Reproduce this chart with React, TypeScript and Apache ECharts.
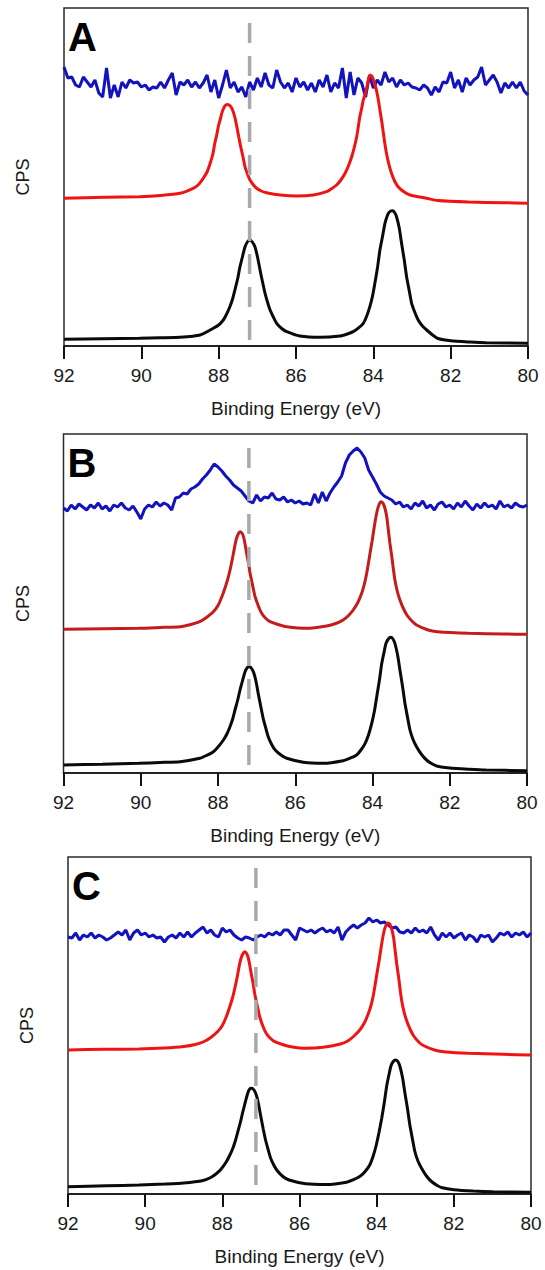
import React, { useEffect, useRef } from "react";
import * as echarts from "echarts";

// ---------- data ----------
const E_MIN = 80;
const E_MAX = 92;
const E_TICK = 2;
const X_TITLE = "Binding Energy (eV)";
const Y_TITLE = "CPS";
const PANEL_LABELS = ["A", "B", "C"];
const REF_LINE_EV = [87.2, 87.2, 87.13];

// blue traces: sampled every 0.1 eV starting at 92 eV
const NOISE_START = 92;
const NOISE_STEP = 0.1;

const blueA = [
  279, 268, 269, 261, 259, 269, 264, 259, 266, 253,
  249, 278, 248, 261, 249, 264, 258, 266, 263, 264,
  259, 261, 256, 259, 258, 264, 258, 266, 273, 251,
  264, 261, 266, 259, 264, 258, 263, 271, 254, 266,
  248, 261, 276, 258, 264, 254, 259, 249, 264, 256,
  268, 259, 273, 261, 258, 276, 264, 258, 263, 254,
  268, 259, 264, 256, 263, 254, 266, 259, 271, 254,
  263, 258, 278, 248, 274, 251, 268, 263, 249, 271,
  258, 266, 261, 274, 264, 268, 259, 266, 261, 263,
  259, 258, 256, 261, 258, 251, 259, 254, 264, 263,
  274, 258, 266, 254, 268, 261, 266, 269, 279, 261,
  266, 271, 264, 253, 263, 258, 264, 258, 264, 255,
  251,
];

const blueB = [
  265, 262, 268, 264, 269, 266, 263, 268, 265, 270,
  264, 267, 262, 268, 266, 270, 265, 263, 267, 261,
  254, 264, 268, 266, 271, 267, 270, 268, 263, 275,
  276, 280, 279, 284, 286, 289, 294, 298, 303, 309,
  306, 302, 297, 293, 288, 285, 282, 277, 272, 270,
  278, 272, 276, 275, 280, 274, 273, 276, 271, 273,
  270, 272, 269, 270, 268, 279, 270, 281, 272, 280,
  286, 291, 297, 310, 318, 322, 325, 321, 315, 303,
  296, 289, 281, 277, 275, 273, 269, 271, 266, 268,
  264, 270, 267, 272, 265, 268, 263, 269, 271, 266,
  268, 264, 270, 266, 272, 267, 263, 269, 265, 270,
  266, 268, 264, 272, 266, 268, 265, 270, 267, 266,
  268,
];

const blueC = [
  257, 256, 261, 254, 259, 257, 261, 256, 259, 257,
  254, 256, 259, 262, 259, 264, 254, 261, 264, 259,
  261, 257, 259, 256, 257, 252, 257, 259, 256, 261,
  257, 262, 257, 261, 264, 267, 261, 264, 259, 257,
  266, 262, 264, 259, 256, 254, 257, 256, 254, 257,
  259, 257, 261, 259, 262, 259, 264, 264, 259, 254,
  266, 264, 262, 264, 261, 264, 266, 262, 264, 261,
  267, 254, 262, 266, 269, 266, 269, 271, 276, 272,
  274, 271, 272, 269, 266, 267, 262, 261, 264, 261,
  266, 262, 264, 261, 267, 259, 254, 261, 257, 261,
  256, 259, 261, 254, 259, 257, 252, 259, 257, 259,
  252, 256, 261, 259, 262, 257, 261, 259, 262, 257,
  261,
];

const blackA: [number, number][] = [
  [92.0, 6.7], [91.0, 7.2], [90.05, 7.7], [89.5, 8.2], [89.0, 8.7], [88.48, 11], [88.14, 17.7], [88.0, 21],
  [87.88, 26], [87.8, 31.5], [87.71, 39.3], [87.64, 47], [87.58, 56], [87.51, 67], [87.45, 79], [87.38, 90],
  [87.32, 99], [87.25, 104.5], [87.19, 106], [87.13, 104], [87.06, 99], [86.99, 88], [86.93, 76], [86.86, 63],
  [86.8, 52.7], [86.73, 43], [86.67, 36], [86.58, 28.5], [86.5, 22.7], [86.37, 17.5], [86.24, 14.3], [85.9, 10],
  [85.38, 8.7], [84.86, 10], [84.69, 11.8], [84.52, 14.3], [84.39, 17.8], [84.26, 22.7], [84.17, 30], [84.09, 39.3],
  [84.02, 50], [83.96, 62.7], [83.89, 79], [83.83, 96], [83.76, 110], [83.7, 122.7], [83.65, 129], [83.61, 132.7],
  [83.55, 135], [83.5, 135.3], [83.45, 133.5], [83.4, 129.3], [83.33, 118], [83.27, 102.7], [83.2, 86], [83.14, 69.3],
  [83.07, 55], [83.01, 42.7], [82.92, 33], [82.84, 26], [82.73, 20], [82.62, 16], [82.45, 10.5], [82.33, 7.5],
  [82.0, 5.2], [81.5, 4], [81.08, 3.3], [80.0, 2.7],
];

const redA: [number, number][] = [
  [92.0, 147.7], [90.95, 148.7], [90.05, 149.3], [89.5, 150.5], [89.0, 152.7], [88.66, 157.7], [88.52, 161.5], [88.4, 167.7],
  [88.3, 174], [88.22, 182.7], [88.15, 192], [88.1, 202.7], [88.05, 211], [88.01, 219.3], [87.96, 226.5], [87.92, 232.7],
  [87.88, 237], [87.84, 240], [87.78, 241.5], [87.73, 241], [87.68, 239], [87.64, 236], [87.58, 228.5], [87.53, 219.3],
  [87.48, 209], [87.43, 199.3], [87.37, 189], [87.32, 179.3], [87.25, 171.5], [87.19, 166], [87.1, 161], [87.02, 157.7],
  [86.9, 155], [86.76, 153.3], [86.41, 151], [85.98, 150], [85.55, 151], [85.21, 154.3], [85.08, 157.3], [84.95, 161],
  [84.84, 166], [84.73, 172.7], [84.64, 180.5], [84.56, 189.3], [84.49, 199], [84.43, 209.3], [84.39, 219], [84.35, 229.3],
  [84.3, 238], [84.26, 246], [84.21, 252], [84.17, 258], [84.13, 266], [84.08, 271], [84.03, 269.5], [83.98, 264],
  [83.94, 259], [83.91, 254], [83.87, 246], [83.83, 236], [83.78, 224], [83.74, 212.7], [83.7, 202], [83.66, 192.7],
  [83.6, 182], [83.53, 172.7], [83.45, 165], [83.36, 159.3], [83.2, 154], [83.05, 151], [82.62, 147.7], [82.33, 145.5],
  [81.53, 144], [80.63, 143.3], [80.0, 142.7],
];

const blackB: [number, number][] = [
  [92.0, 8], [91.0, 8.8], [90.05, 9.7], [89.5, 10.5], [88.98, 11.3], [88.47, 14.7], [88.3, 17.5], [88.12, 21.3],
  [88.0, 26], [87.86, 33], [87.77, 39], [87.69, 46.3], [87.62, 54], [87.56, 63], [87.49, 73], [87.43, 83],
  [87.36, 93], [87.3, 101.3], [87.24, 105.5], [87.19, 106.3], [87.13, 104.5], [87.07, 99.7], [87.01, 90.5], [86.96, 79.7],
  [86.89, 66], [86.83, 54.7], [86.76, 44.5], [86.7, 36.3], [86.61, 28.5], [86.52, 23], [86.37, 18], [86.22, 14.7],
  [85.79, 10.7], [85.27, 9.7], [84.76, 12.3], [84.58, 14.8], [84.41, 18], [84.3, 23], [84.19, 29.7], [84.1, 38.5],
  [84.02, 49.7], [83.95, 62], [83.89, 76.3], [83.82, 93], [83.76, 109.7], [83.7, 121], [83.65, 129.7], [83.59, 134],
  [83.53, 135.7], [83.47, 134], [83.42, 129.7], [83.35, 118], [83.29, 103], [83.22, 86], [83.16, 69.7], [83.09, 55],
  [83.03, 43], [82.95, 33.5], [82.86, 26.3], [82.73, 18.5], [82.6, 13], [82.45, 9], [82.32, 6.8], [82.0, 5],
  [81.5, 3.8], [81.06, 3], [80.0, 2.3],
];

const redB: [number, number][] = [
  [92.0, 143.7], [90.95, 144.3], [90.05, 144.7], [89.5, 145.5], [88.98, 146.3], [88.7, 148.5], [88.47, 151.3], [88.3, 155.5],
  [88.12, 161.3], [88.0, 167.5], [87.9, 176.3], [87.81, 186], [87.73, 196.3], [87.66, 208], [87.6, 219.7], [87.56, 228],
  [87.52, 234.7], [87.47, 239.5], [87.43, 241.3], [87.38, 240], [87.34, 236.3], [87.3, 229], [87.26, 219.7], [87.21, 210],
  [87.17, 199.7], [87.1, 187], [87.04, 176.3], [86.95, 166.5], [86.87, 159.7], [86.76, 154.5], [86.65, 151.3], [86.45, 148.5],
  [86.22, 146.3], [85.7, 144.7], [85.19, 147], [84.95, 149.5], [84.76, 153], [84.62, 157.5], [84.5, 163], [84.38, 170.5],
  [84.28, 179.7], [84.21, 189], [84.15, 199.7], [84.1, 211], [84.05, 223], [84.01, 232], [83.98, 239.7], [83.93, 252],
  [83.88, 262], [83.83, 268.5], [83.78, 271.3], [83.73, 270], [83.68, 265], [83.63, 256], [83.59, 243], [83.55, 230],
  [83.5, 216.3], [83.46, 204], [83.42, 193], [83.36, 182], [83.29, 173], [83.2, 164.5], [83.11, 158], [82.98, 152],
  [82.86, 148], [82.56, 143], [82.32, 141.3], [81.51, 139.7], [80.61, 139], [80.0, 138.7],
];

const blackC: [number, number][] = [
  [92.0, 7.3], [91.0, 8.2], [90.16, 9], [89.5, 10], [89.0, 11], [88.5, 13.5], [88.3, 16.5], [88.15, 20.5],
  [88.03, 25], [87.9, 32], [87.81, 38.5], [87.73, 45.5], [87.66, 53.5], [87.6, 62], [87.53, 72], [87.47, 82],
  [87.4, 92.5], [87.34, 101], [87.29, 105], [87.24, 105.7], [87.18, 104], [87.12, 99], [87.06, 89.5], [87.01, 79],
  [86.94, 65], [86.88, 54], [86.81, 44], [86.75, 36], [86.66, 28.5], [86.57, 23], [86.43, 17.5], [86.27, 14],
  [85.84, 10.3], [85.3, 9.5], [84.78, 11.8], [84.6, 14.3], [84.42, 18], [84.3, 22.5], [84.18, 29], [84.09, 38],
  [84.01, 49], [83.94, 61.5], [83.87, 75.5], [83.8, 92], [83.74, 108], [83.68, 119.5], [83.63, 128], [83.57, 132.5],
  [83.51, 134], [83.45, 132.5], [83.4, 128], [83.33, 116.5], [83.27, 101.5], [83.2, 85], [83.14, 69], [83.07, 54.5],
  [83.01, 42.5], [82.93, 33], [82.84, 26], [82.71, 18], [82.58, 12.5], [82.43, 8.5], [82.3, 6.2], [82.0, 4.3],
  [81.5, 3], [80.99, 2.3], [80.0, 1.7],
];

const redC: [number, number][] = [
  [92.0, 144], [91.06, 144.7], [90.16, 145], [89.5, 146], [89.0, 147.5], [88.7, 149.5], [88.47, 152.5], [88.3, 156.5],
  [88.12, 162.5], [88.0, 168.5], [87.9, 177], [87.81, 187], [87.73, 197], [87.66, 208.5], [87.6, 220], [87.56, 228.5],
  [87.52, 235], [87.47, 240], [87.42, 242.3], [87.37, 240.5], [87.33, 236.5], [87.29, 229], [87.25, 220], [87.2, 210],
  [87.16, 200], [87.09, 187.5], [87.03, 177], [86.94, 167], [86.86, 160.5], [86.75, 155.5], [86.64, 152.3], [86.44, 149.5],
  [86.22, 147.3], [85.84, 145.7], [85.39, 146.7], [84.94, 150], [84.75, 153], [84.6, 157.5], [84.45, 163.5], [84.32, 171],
  [84.22, 180], [84.14, 189.5], [84.08, 200], [84.03, 211.5], [83.98, 223.5], [83.94, 232.5], [83.91, 240], [83.86, 252.5],
  [83.81, 262.5], [83.76, 268.5], [83.71, 271], [83.66, 270], [83.61, 265], [83.56, 256], [83.52, 243], [83.48, 230],
  [83.43, 216.5], [83.39, 204], [83.35, 193], [83.29, 182], [83.22, 173], [83.13, 164.5], [83.04, 158], [82.91, 152],
  [82.79, 148.5], [82.5, 144], [82.2, 142], [81.62, 140.7], [80.72, 139.7], [80.0, 139],
];

// ---------- layout / style ----------
const FONT = "'Liberation Sans', Arial, Helvetica, sans-serif";
const PANELS = [
  { left: 64, top: 8, width: 464, height: 338, blue: blueA, red: redA, black: blackA, redColor: "#ee1414", dashTop: 323 },
  { left: 63.5, top: 434, width: 463.5, height: 339, blue: blueB, red: redB, black: blackB, redColor: "#c41c1c", dashTop: 325 },
  { left: 68, top: 857, width: 463, height: 337, blue: blueC, red: redC, black: blackC, redColor: "#ee1414", dashTop: 326 },
];

function buildOption() {
  const grid: any[] = [];
  const xAxis: any[] = [];
  const yAxis: any[] = [];
  const series: any[] = [];
  const graphic: any[] = [];

  PANELS.forEach((p, k) => {
    grid.push({
      left: p.left,
      top: p.top,
      width: p.width,
      height: p.height,
      show: true,
      borderColor: "#2a2a2a",
      borderWidth: 1.5,
      backgroundColor: "transparent",
    });
    xAxis.push({
      gridIndex: k,
      type: "value",
      min: E_MIN,
      max: E_MAX,
      interval: E_TICK,
      inverse: true,
      axisLine: { show: true, lineStyle: { color: "#111", width: 1.5 } },
      axisTick: { show: true, inside: false, length: 13, lineStyle: { color: "#111", width: 2 } },
      axisLabel: { fontSize: 19, color: "#1a1a1a", margin: 20, fontFamily: FONT },
      splitLine: { show: false },
      name: X_TITLE,
      nameLocation: "middle",
      nameGap: 53,
      nameTextStyle: { fontSize: 19, color: "#1a1a1a", fontFamily: FONT },
    });
    yAxis.push({
      gridIndex: k,
      type: "value",
      min: 0,
      max: p.height,
      show: false,
      splitLine: { show: false },
    });
    const blueData = p.blue.map((v, i) => [+(NOISE_START - i * NOISE_STEP).toFixed(2), v]);
    series.push({
      type: "line",
      xAxisIndex: k,
      yAxisIndex: k,
      data: blueData,
      symbol: "none",
      lineStyle: { color: "#1212bf", width: 3 },
      z: 2,
    });
    series.push({
      type: "line",
      xAxisIndex: k,
      yAxisIndex: k,
      data: p.red,
      symbol: "none",
      smooth: 0.2,
      lineStyle: { color: p.redColor, width: 3 },
      z: 3,
    });
    series.push({
      type: "line",
      xAxisIndex: k,
      yAxisIndex: k,
      data: p.black,
      symbol: "none",
      smooth: 0.2,
      lineStyle: { color: "#0a0a0a", width: 3 },
      z: 4,
    });
    series.push({
      type: "line",
      xAxisIndex: k,
      yAxisIndex: k,
      data: [
        [REF_LINE_EV[k], p.dashTop],
        [REF_LINE_EV[k], -4],
      ],
      symbol: "none",
      clip: false,
      silent: true,
      lineStyle: { color: "#a9a9a9", width: 3.5, type: [20, 13] },
      z: 6,
    });
    graphic.push({
      type: "text",
      x: p.left - 41,
      y: p.top + p.height / 2,
      rotation: Math.PI / 2,
      style: {
        text: Y_TITLE,
        fill: "#1a1a1a",
        font: `18px ${FONT}`,
        align: "center",
        verticalAlign: "middle",
      },
    });
    graphic.push({
      type: "text",
      x: p.left + 4,
      y: p.top + 28.5,
      style: {
        text: PANEL_LABELS[k],
        fill: "#000",
        font: `bold 40px ${FONT}`,
        align: "left",
        verticalAlign: "middle",
      },
    });
  });

  return {
    animation: false,
    backgroundColor: "#fff",
    grid,
    xAxis,
    yAxis,
    series,
    graphic,
  };
}

export default function App() {
  const ref = useRef<HTMLDivElement>(null);
  useEffect(() => {
    if (!ref.current) return;
    const chart = echarts.init(ref.current, undefined, { renderer: "svg" });
    chart.setOption(buildOption() as any);
    return () => chart.dispose();
  }, []);
  return (
    <div
      ref={ref}
      style={{ position: "absolute", left: 0, top: 0, width: 545, height: 1270 }}
    />
  );
}
